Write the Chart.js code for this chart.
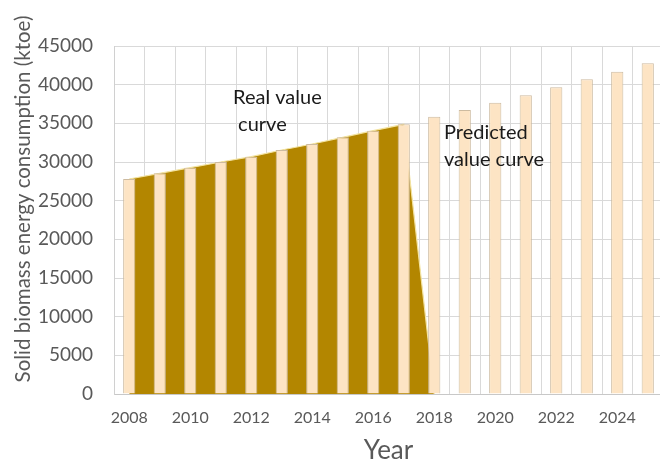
<!DOCTYPE html>
<html>
<head>
<meta charset="utf-8">
<script src="https://cdn.jsdelivr.net/npm/chart.js@4.4.1/dist/chart.umd.min.js"></script>
<style>
  html, body { margin: 0; padding: 0; background: #ffffff; overflow: hidden; }
  #wrap { position: relative; width: 664px; height: 462px; }
</style>
</head>
<body>
<div id="wrap"><canvas id="c"></canvas></div>
<script>
// ---- data ----
const years = ['2008','2009','2010','2011','2012','2013','2014','2015','2016','2017',
               '2018','2019','2020','2021','2022','2023','2024','2025'];
const realValues = [27800, 28530, 29270, 30000, 30690, 31550, 32330, 33190, 34050, 34870];
const predictedValues = [35860, 36720, 37670, 38620, 39650, 40690, 41680, 42760];
const barValues = realValues.concat(predictedValues);
const areaValues = realValues.concat([0]);
const yTicks = [0, 5000, 10000, 15000, 20000, 25000, 30000, 35000, 40000, 45000];
const yTitle = 'Solid biomass energy consumption (ktoe)';
const xTitle = 'Year';
const notes = [
  { lines: ['Real value', ' curve'], x: 233, y: 98 },
  { lines: ['Predicted', 'value curve'], x: 444, y: 133 }
];

const FONT = 'Lato, "Open Sans", sans-serif';
const GREY = '#595959';

const textPlugin = {
  id: 'texts',
  afterDraw(chart) {
    const ctx = chart.ctx;
    ctx.save();
    // y-axis title
    ctx.translate(23, 199);
    ctx.rotate(-Math.PI / 2);
    ctx.font = '20.5px ' + FONT;
    ctx.fillStyle = GREY;
    ctx.textAlign = 'center';
    ctx.textBaseline = 'middle';
    ctx.fillText(yTitle, 0, 0);
    ctx.restore();
    // annotations
    ctx.save();
    ctx.font = '20px ' + FONT;
    ctx.fillStyle = '#1a1a1a';
    ctx.textAlign = 'left';
    ctx.textBaseline = 'middle';
    notes.forEach(n => {
      n.lines.forEach((l, i) => ctx.fillText(l, n.x, n.y + i * 27));
    });
    ctx.restore();
  }
};

new Chart(document.getElementById('c'), {
  type: 'bar',
  data: {
    labels: years,
    datasets: [
      {
        type: 'line',
        label: 'Real value curve',
        data: areaValues,
        fill: 'origin',
        backgroundColor: '#B38600',
        borderColor: '#F3E3A0',
        borderWidth: 1.2,
        pointRadius: 0,
        tension: 0,
        order: 2
      },
      {
        type: 'bar',
        label: 'Consumption',
        data: barValues,
        backgroundColor: '#FDE4C4',
        borderColor: '#CDBBA0',
        borderWidth: 1,
        categoryPercentage: 1,
        barPercentage: 0.4,
        order: 1
      }
    ]
  },
  options: {
    responsive: true,
    maintainAspectRatio: false,
    devicePixelRatio: 1,
    animation: false,
    layout: { padding: { left: 0, right: 1, top: 46, bottom: 0 } },
    plugins: { legend: { display: false }, tooltip: { enabled: false } },
    scales: {
      x: {
        offset: true,
        grid: { display: true, offset: true, color: '#D9D9D9', lineWidth: 1, drawTicks: false },
        border: { display: true, color: '#C8C8C8' },
        ticks: {
          autoSkip: false,
          maxRotation: 0,
          minRotation: 0,
          padding: 14,
          color: GREY,
          font: { family: FONT, size: 16 },
          callback: function (v, i) { return i % 2 === 0 ? years[i] : ''; }
        },
        title: {
          display: true,
          text: xTitle,
          color: GREY,
          font: { family: FONT, size: 26, lineHeight: 1 },
          padding: { top: 0, bottom: -2 }
        },
        afterFit(scale) { scale.height = 68; }
      },
      y: {
        min: 0,
        max: 45000,
        grid: { color: '#D9D9D9', lineWidth: 1, drawTicks: false },
        border: { display: true, color: '#D0D0D0' },
        ticks: {
          stepSize: 5000,
          padding: 21,
          color: GREY,
          font: { family: FONT, size: 19 },
          callback: function (v) { return yTicks.includes(v) ? String(v) : ''; }
        },
        afterFit(scale) { scale.width = 114; }
      }
    }
  },
  plugins: [textPlugin]
});
</script>
</body>
</html>
